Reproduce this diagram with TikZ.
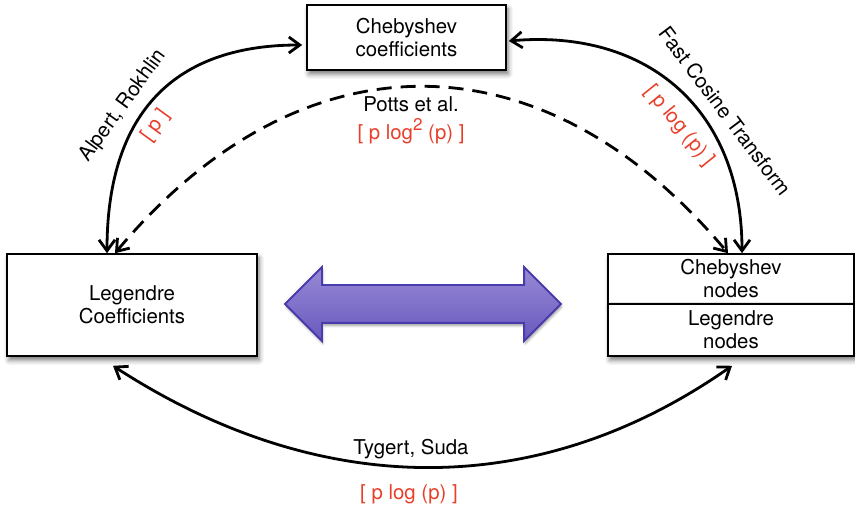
\documentclass[tikz,border=0pt]{standalone}
\usepackage{fontspec}
\setmainfont{TeX Gyre Heros}
\usetikzlibrary{arrows.meta,shapes.arrows,shadows.blur}
\definecolor{costred}{RGB}{232,62,42}
\definecolor{swaptop}{RGB}{152,138,214}
\definecolor{swapbot}{RGB}{104,88,190}
\definecolor{swapedge}{RGB}{72,60,172}

\begin{document}
\begin{tikzpicture}[x=1pt,y=1pt,
                    font=\fontsize{20.4}{23}\selectfont,
                    box/.style={draw,line width=1.6pt,fill=white,align=center,inner sep=0pt,
                        blur shadow={shadow xshift=2pt,shadow yshift=-4pt,shadow blur radius=5pt,shadow opacity=55}},
                    link/.style={line width=2.8pt,
                        {Straight Barb[length=11pt,width=16pt]}-{Straight Barb[length=11pt,width=16pt]}},
                    cost/.style={text=costred}]
                    \useasboundingbox (0,0) rectangle (855,508);

                    \node (cheb) [box,minimum width=199pt,minimum height=65pt] at (406.5,470.5)
                        {Chebyshev\\coefficients};
                    \node (leg) [box,minimum width=250pt,minimum height=102pt] at (132,203)
                        {Legendre\\Coefficients};
                    \node (chebnodes) [box,minimum width=246pt,minimum height=50pt] at (731,229)
                        {Chebyshev\\nodes};
                    \node (legnodes) [box,minimum width=246pt,minimum height=52pt] at (731,178)
                        {Legendre\\nodes};

                    \node (swap) [double arrow,draw=swapedge,line width=1.8pt,
                        top color=swaptop,bottom color=swapbot,
                        minimum height=276pt,minimum width=72pt,
                        double arrow head extend=18pt,inner sep=0pt,inner ysep=18pt,
                        blur shadow={shadow xshift=1pt,shadow yshift=-3pt,shadow opacity=35}] at (423,204) {};

                    \draw[link] ([xshift=-4pt,yshift=-7.5pt]cheb.west)
                        to[out=180,in=90,looseness=1.2] ([xshift=-25pt]leg.north);
                    \draw[link] ([xshift=2pt,yshift=-3.5pt]cheb.east)
                        to[out=5,in=90,looseness=1.15] ([xshift=11pt]chebnodes.north);
                    \draw[link,dash pattern=on 15pt off 9pt] ([xshift=-17pt]leg.north)
                        to[out=50,in=130,looseness=1.21] ([xshift=-3pt]chebnodes.north);
                    \draw[link] ([xshift=-19pt,yshift=-9pt]leg.south)
                        to[out=-33,in=-145,looseness=1.0] ([xshift=1pt,yshift=-9pt]legnodes.south);

                    \node (alpert) [rotate=54] at (123,402) {Alpert, Rokhlin};
                    \node (alpertcost) [cost,rotate=54] at (156,382) {[ p ]};
                    \node (fct) [rotate=-53] at (725,397) {Fast Cosine Transform};
                    \node (fctcost) [cost,rotate=-51] at (679,382) {[ p log (p) ]};
                    \node (potts) [anchor=base] at (411,396) {Potts et al.};
                    \node (pottscost) [cost,anchor=base] at (411,368)
                        {[ p log\raisebox{9pt}{\fontsize{17}{17}\selectfont 2} (p) ]};
                    \node (tygert) [anchor=base] at (411,53) {Tygert, Suda};
                    \node (tygertcost) [cost,anchor=base] at (409,8) {[ p log (p) ]};
\end{tikzpicture}
\end{document}
